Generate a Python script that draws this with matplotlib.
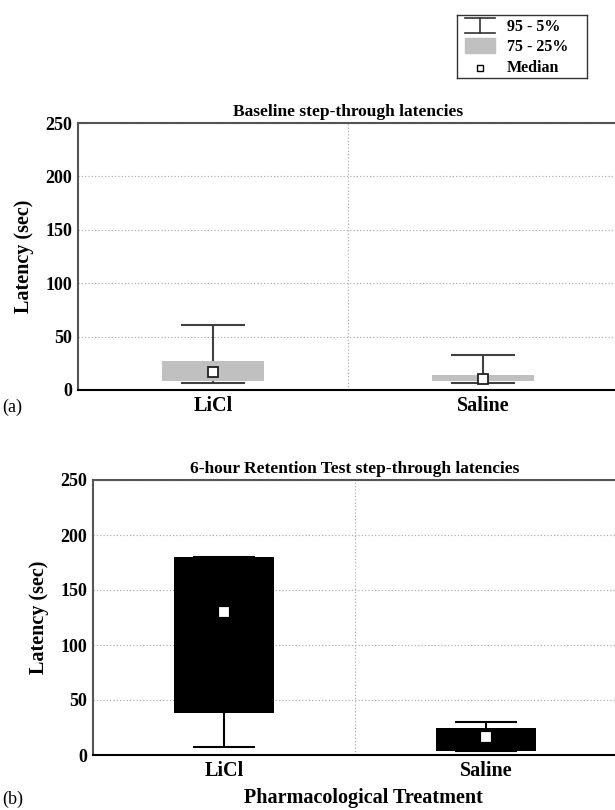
import numpy as np
import matplotlib.pyplot as plt
from matplotlib.patches import Rectangle
from matplotlib.lines import Line2D

plt.rcParams['font.family'] = ['Liberation Serif', 'DejaVu Serif']
plt.rcParams['font.weight'] = 'bold'

# --- data (latency, sec) ---
groups = ['LiCl', 'Saline']

base_p95 = [61, 33]
base_p75 = [27, 14]
base_median = [17, 10]
base_p25 = [8.5, 8.5]
base_p5 = [6.5, 6.5]

ret_p95 = [180, 30]
ret_p75 = [180, 24.5]
ret_median = [130, 16.5]
ret_p25 = [38, 4]
ret_p5 = [7.5, 4]

yticks = [0, 50, 100, 150, 200, 250]

W, H = 615, 810
fig = plt.figure(figsize=(W / 100, H / 100), dpi=100)


def px_axes(left, top, right, bottom):
    return fig.add_axes([left / W, 1 - bottom / H, (right - left) / W, (bottom - top) / H])


def draw_panel(ax, p95, p75, med, p25, p5, box_color, line_color, med_edge, med_size, title):
    x = np.arange(len(groups))
    ax.set_xlim(-0.5, 1.5)
    ax.set_ylim(0, 250)
    # whiskers
    ax.vlines(x, p5, p95, color=line_color, lw=1.5, zorder=2)
    ax.hlines(p95, x - 0.12, x + 0.12, color=line_color, lw=1.5, zorder=2)
    ax.hlines(p5, x - 0.12, x + 0.12, color=line_color, lw=1.5, zorder=2)
    # boxes
    ax.bar(x, np.array(p75) - np.array(p25), bottom=p25, width=0.38,
           color=box_color, zorder=3)
    # medians
    ax.plot(x, med, 's', ms=med_size, mfc='white', mec=med_edge, mew=1.3, zorder=4)

    ax.set_yticks(yticks)
    ax.set_xticks(x)
    ax.set_xticklabels(groups, fontsize=14.5, fontweight='bold')
    ax.tick_params(axis='y', length=0, labelsize=13, pad=4)
    ax.tick_params(axis='x', length=0, pad=4)
    for t in ax.get_yticklabels():
        t.set_fontweight('bold')
    ax.grid(axis='y', ls=':', color='#b0b0b0', lw=0.9)
    ax.axvline(0.5, ls=':', color='#b0b0b0', lw=0.9, zorder=1)
    ax.set_axisbelow(True)
    ax.spines['right'].set_visible(False)
    ax.spines['top'].set_color('#555555')
    ax.spines['left'].set_color('#555555')
    ax.spines['top'].set_linewidth(1.5)
    ax.spines['left'].set_linewidth(1.5)
    ax.spines['bottom'].set_linewidth(1.5)
    ax.set_ylabel('Latency (sec)', fontsize=14.5, fontweight='bold', labelpad=8)
    ax.set_title(title, fontsize=12.5, fontweight='bold', pad=5)


ax1 = px_axes(78, 123, 618, 390)
draw_panel(ax1, base_p95, base_p75, base_median, base_p25, base_p5,
           '#c0c0c0', '#404040', '#202020', 7.5, 'Baseline step-through latencies')

ax2 = px_axes(93, 480, 617, 755)
draw_panel(ax2, ret_p95, ret_p75, ret_median, ret_p25, ret_p5,
           'black', 'black', 'white', 5.5, '6-hour Retention Test step-through latencies')
fig.text(363 / W, 1 - 798 / H, 'Pharmacological Treatment', fontsize=14.5,
         fontweight='bold', ha='center', va='center')

fig.text(2 / W, 1 - 407 / H, '(a)', fontsize=13, fontweight='normal', va='center')
fig.text(2 / W, 1 - 799 / H, '(b)', fontsize=13, fontweight='normal', va='center')

# legend box
lg = px_axes(457, 15, 587, 78)
lg.set_xlim(0, 130)
lg.set_ylim(63, 0)
lg.set_xticks([])
lg.set_yticks([])
for s in lg.spines.values():
    s.set_linewidth(1.0)
    s.set_color('#333333')
lg.add_line(Line2D([8, 38], [3, 3], color='#333333', lw=1.2))
lg.add_line(Line2D([23, 23], [3, 18], color='#333333', lw=1.2))
lg.add_line(Line2D([8, 38], [18, 18], color='#333333', lw=1.2))
lg.add_patch(Rectangle((8, 23), 30, 15, color='#c0c0c0'))
lg.plot([23], [53], 's', ms=5, mfc='white', mec='black', mew=1.0)
lg.text(50, 12, '95 - 5%', fontsize=11.5, fontweight='bold', va='center')
lg.text(50, 32, '75 - 25%', fontsize=11.5, fontweight='bold', va='center')
lg.text(50, 53, 'Median', fontsize=11.5, fontweight='bold', va='center')

fig.savefig('out.png', dpi=100)
